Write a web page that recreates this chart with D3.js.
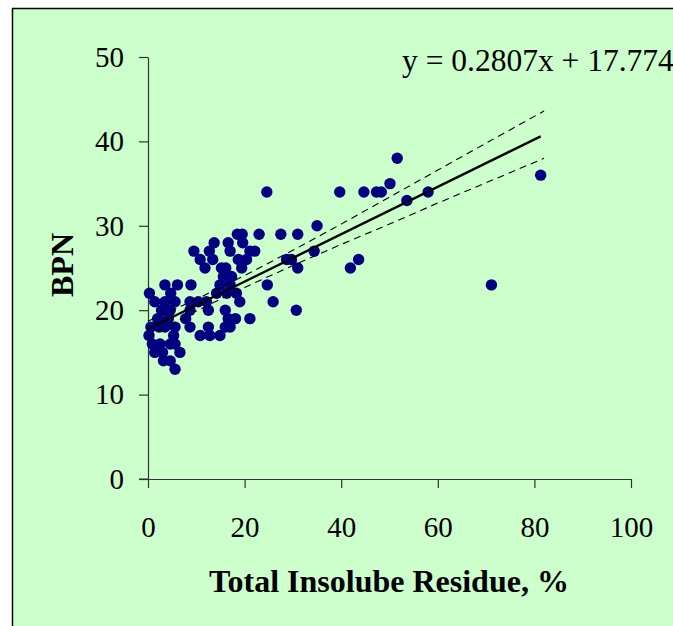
<!DOCTYPE html>
<html>
<head>
<meta charset="utf-8">
<script src="https://cdn.jsdelivr.net/npm/d3@7"></script>
<style>
  body { margin: 0; background: #fff; }
  svg { display: block; }
</style>
</head>
<body>
<div id="chart"></div>
<script>
// total insoluble residue (%) and BPN, one entry per sample
let residue = [
  5.6,
  3.2, 4.6,
  1.4, 3.0, 6.6,
  0.9, 2.5, 4.6, 5.6,
  0.2, 5.3, 10.8, 12.8, 14.9,
  0.6, 2.3, 3.5, 5.6, 8.7, 12.5, 16.0, 17.0,
  2.0, 4.2, 7.8, 16.6, 18.1, 21.1,
  2.8, 4.6, 8.7, 12.5, 16.0, 30.7,
  1.4, 3.5, 5.6, 8.7, 10.4, 12.1, 19.0, 25.9,
  0.3, 4.7, 14.2, 16.3, 18.3,
  3.5, 6.1, 8.9, 14.9, 17.0, 24.7, 71.1,
  15.6, 17.3,
  11.8, 15.2, 16.1, 19.4, 31.0, 41.9,
  10.8, 13.4, 18.7, 20.4, 28.7, 29.7, 43.6,
  9.5, 12.7, 17.0, 21.1, 22.1, 34.4,
  13.7, 16.6, 19.6,
  18.5, 19.5, 23.0, 27.5, 31.0,
  35.0,
  53.6,
  24.6, 39.7, 44.7, 47.3, 48.3, 58.0,
  50.1,
  81.3,
  51.6
]
let bpn = [
  13,
  14, 14,
  15, 15, 15,
  16, 16, 16, 16,
  17, 17, 17, 17, 17,
  18, 18, 18, 18, 18, 18, 18, 18,
  19, 19, 19, 19, 19, 19,
  20, 20, 20, 20, 20, 20,
  21, 21, 21, 21, 21, 21, 21, 21,
  22, 22, 22, 22, 22,
  23, 23, 23, 23, 23, 23, 23,
  24, 24,
  25, 25, 25, 25, 25, 25,
  26, 26, 26, 26, 26, 26, 26,
  27, 27, 27, 27, 27, 27,
  28, 28, 28,
  29, 29, 29, 29, 29,
  30,
  33,
  34, 34, 34, 34, 34, 34,
  35,
  36,
  38
]

// trendline as printed on the chart
let slope = 0.2807, intercept = 17.774
let equationLabel = 'y = 0.2807x + 17.774'

// dashed confidence band
let bandX = [0, 10, 20, 30, 40, 50, 60, 70, 82]
let bandUpper = [18.7, 21.3, 24.1, 27.1, 30.2, 33.4, 36.6, 39.8, 43.6]
let bandLower = [16.9, 19.9, 22.7, 25.3, 27.8, 30.2, 32.7, 35.1, 38.0]

let xTicks = [0, 20, 40, 60, 80, 100]
let yTicks = [0, 10, 20, 30, 40, 50]

let width = 673, height = 626
let serif = "'Times New Roman', 'Liberation Serif', serif"

let svg = d3.select('#chart')
  .append('svg')
  .attr('width', width)
  .attr('height', height)

// chart area frame (runs off the right and bottom edge)
svg.append('rect')
  .attr('x', 12.5)
  .attr('y', 8.5)
  .attr('width', 720)
  .attr('height', 700)
  .style('fill', '#ccffcc')
  .style('stroke', '#000')
  .style('stroke-width', 1.5)

let x = d3.scaleLinear().domain([0, 100]).range([148, 631])
let y = d3.scaleLinear().domain([0, 50]).range([479, 57])

svg.append('g')
  .attr('transform', 'translate(0,' + y(0) + ')')
  .call(d3.axisBottom(x).tickValues(xTicks).tickSize(9).tickSizeOuter(0).tickPadding(28))

svg.append('g')
  .attr('transform', 'translate(' + x(0) + ',0)')
  .call(d3.axisLeft(y).tickValues(yTicks).tickSize(9).tickSizeOuter(0).tickPadding(15))

// x axis line also runs under the y tick at 0
svg.append('line')
  .attr('x1', x(0) - 9).attr('x2', x(0))
  .attr('y1', y(0)).attr('y2', y(0))
  .style('stroke', '#333')

svg.selectAll('.domain, .tick line').style('stroke', '#333').style('stroke-width', 1.2)
svg.selectAll('.tick text')
  .style('font-family', serif)
  .style('font-size', '29px')
  .style('fill', '#000')

// points
let pts = residue.map((r, i) => ({ r: r, b: bpn[i] }))
svg.append('g').selectAll('circle')
  .data(pts)
  .enter().append('circle')
    .attr('cx', d => x(d.r))
    .attr('cy', d => y(d.b))
    .attr('r', 5.7)
    .style('fill', '#000080')

// dashed band
let bandLine = d3.line().x(d => x(d[0])).y(d => y(d[1]))
;[bandUpper, bandLower].forEach(vals => {
  svg.append('path')
    .attr('d', bandLine(bandX.map((bx, i) => [bx, vals[i]])))
    .style('fill', 'none')
    .style('stroke', '#000')
    .style('stroke-width', 1.1)
    .style('stroke-dasharray', '7,5')
})

// trendline from 0 to the largest residue
let x1 = d3.max(residue)
svg.append('line')
  .attr('x1', x(0)).attr('y1', y(intercept))
  .attr('x2', x(x1)).attr('y2', y(intercept + slope * x1))
  .style('stroke', '#000')
  .style('stroke-width', 2.4)

svg.append('text')
  .attr('x', 402)
  .attr('y', 71)
  .text(equationLabel)
  .style('font-family', serif)
  .style('font-size', '31.5px')

// axis titles
svg.append('text')
  .attr('x', 389)
  .attr('y', 592)
  .style('text-anchor', 'middle')
  .style('font-family', serif)
  .style('font-weight', 'bold')
  .style('font-size', '32px')
  .text('Total Insolube Residue, %')

svg.append('text')
  .attr('transform', 'translate(73,265) rotate(-90)')
  .style('text-anchor', 'middle')
  .style('font-family', serif)
  .style('font-weight', 'bold')
  .style('font-size', '32px')
  .text('BPN')
</script>
</body>
</html>
